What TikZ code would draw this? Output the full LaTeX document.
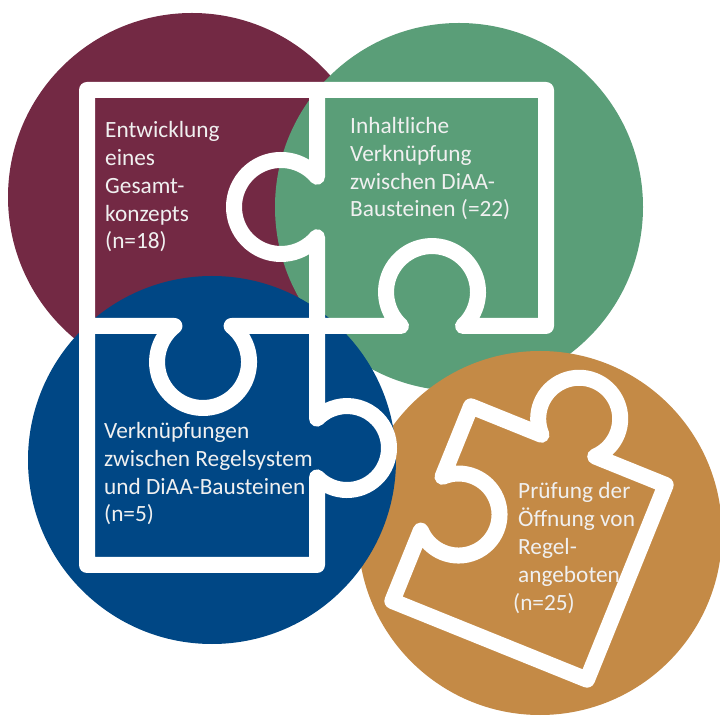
\documentclass[tikz,border=0pt]{standalone}
\usepackage{fontspec}
\setmainfont{Carlito}
\definecolor{wine}{RGB}{115,41,68}
\definecolor{sage}{RGB}{90,158,120}
\definecolor{navy}{RGB}{0,71,133}
\definecolor{ochre}{RGB}{196,138,70}
\definecolor{paper}{RGB}{240,240,240}
\tikzset{
  piece/.style={draw=white, line width=16pt, line join=round, line cap=round},
  blurb/.style={text=paper, font=\fontsize{23.3}{27.8}\selectfont, align=left,
    inner sep=0pt, anchor=base west}
}
\begin{document}
\begin{tikzpicture}[x=1pt,y=1pt]
  \path[fill=white, use as bounding box] (0,0) rectangle (720,715);
  % discs
  \fill[wine] (192,518) circle (184);
  \fill[sage] (459,508) circle (184);
  \fill[ochre] (540,182) circle (182);
  \fill[navy] (212,255) circle (184);
  % three pieces put together
  \draw[piece] (87,389) -- (174.4,389) arc[start angle=128.5, end angle=411.5, radius=46]
    -- (401,389) arc[start angle=-132.4, end angle=-407.6, radius=46]
    -- (546,389) -- (546,625) -- (87,625) -- (87,150) -- (317,150)
    -- (317,237.6) arc[start angle=-135.6, end angle=135.6, radius=42]
    -- (317,477.8) arc[start angle=-40, end angle=-320, radius=47] -- (317,625);
  % loose piece
  \begin{scope}[shift={(529,172)}, rotate=-22]
    \draw[piece] (-105,-105) -- (-105,-29) arc[start angle=-135, end angle=135, radius=41]
      -- (-105,105) -- (-29,105) arc[start angle=-135, end angle=-405, radius=41]
      -- (105,105) -- (105,-105) -- cycle;
  \end{scope}
  % texts (anchored at the last line)
  \node[blurb] (gesamt) at (105,466) {Entwicklung\\eines\\Gesamt-\\konzepts\\(n=18)};
  \node[blurb] (inhalt) at (350,498) {Inhaltliche\\Verknüpfung\\zwischen DiAA-\\Bausteinen (=22)};
  \node[blurb] (regel) at (104,193) {Verknüpfungen\\zwischen Regelsystem\\und DiAA-Bausteinen\\(n=5)};
  \node[blurb] (oeffnung) at (518,105) {Prüfung der\\Öffnung von\\Regel-\\angeboten\\\hspace*{-5pt}(n=25)};
\end{tikzpicture}
\end{document}
